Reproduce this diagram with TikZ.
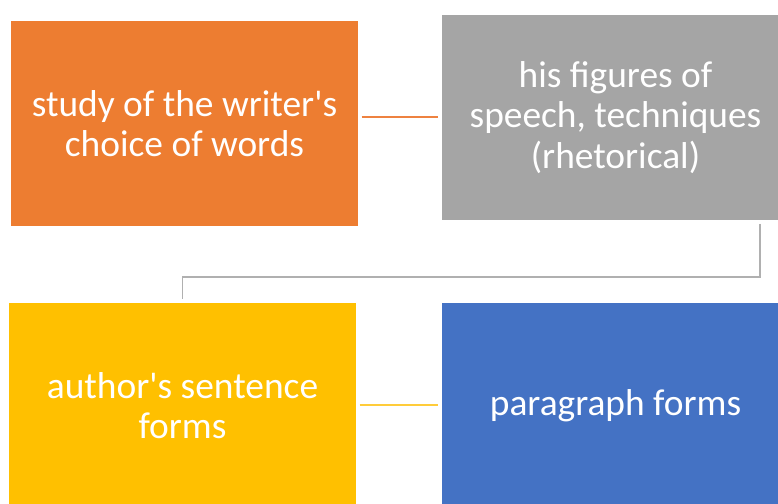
\documentclass[tikz,border=0pt]{standalone}
\usepackage{fontspec}
\setmainfont{Carlito}
\definecolor{cOrange}{HTML}{ED7D31}
\definecolor{cGray}{HTML}{A5A5A5}
\definecolor{cYellow}{HTML}{FFC000}
\definecolor{cBlue}{HTML}{4472C4}
\definecolor{lOrange}{HTML}{EE8240}
\definecolor{lYellow}{HTML}{FFCC3A}
\definecolor{lGray}{HTML}{B0B0B0}
\tikzset{
  box/.style={draw=white, line width=1.2pt, minimum width=349pt, minimum height=207pt,
    inner sep=0pt, align=center, text=white,
    font=\fontsize{37.4}{40.5}\selectfont},
  connline/.style={line width=2pt, line cap=butt}
}
\begin{document}
\begin{tikzpicture}[x=1pt,y=1pt]
\useasboundingbox (0,0) rectangle (778,503);
\fill[white] (0,0) rectangle (778,503);
\begin{scope}
\clip (0,0) rectangle (778,503);
\node[box, fill=cOrange] (orange) at (184.5,379.5) {study of the writer\textquotesingle s\\choice of words};
\node[box, fill=cGray] (gray) at (615.5,385.5) {his figures of\\speech, techniques\\(rhetorical)};
\node[box, fill=cYellow] (yellow) at (182.5,97.5) {author\textquotesingle s sentence\\forms};
\node[box, fill=cBlue] (blue) at (615.5,97.5) {paragraph forms};
\end{scope}
\coordinate (g1) at (760,279);
\draw[connline, draw=lOrange] ([xshift=2pt]orange.east |- gray.west) -- ([xshift=-2pt]gray.west);
\draw[connline, draw=lYellow] ([xshift=2pt]yellow.east) -- ([xshift=-2pt]blue.west);
\draw[connline, draw=lGray, line width=1.6pt] (g1) -- ++(0,-53) -| ([yshift=2pt]yellow.north);
\end{tikzpicture}
\end{document}
